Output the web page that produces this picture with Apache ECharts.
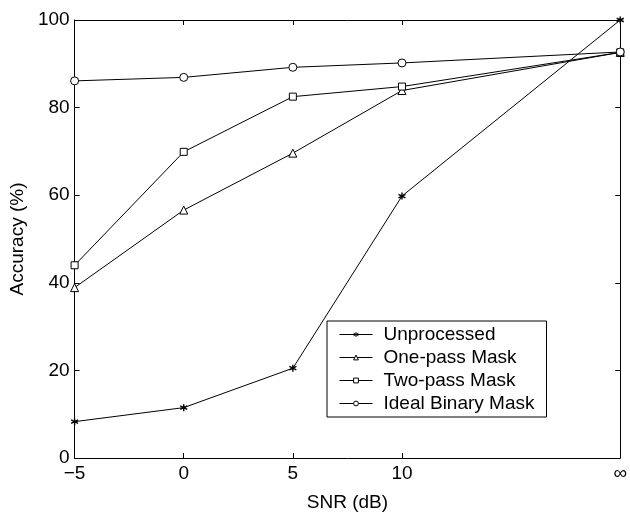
<!DOCTYPE html>
<html>
<head>
<meta charset="utf-8">
<script src="https://cdn.jsdelivr.net/npm/echarts@6/dist/echarts.min.js"></script>
<style>
  html, body { margin: 0; padding: 0; background: #fff; }
  #main { width: 630px; height: 517px; }
</style>
</head>
<body>
<div id="main"></div>
<script>
// SNR positions on the x axis (∞ is drawn at 20)
var snrPos = [-5, 0, 5, 10, 20];
var snrLabels = {'-5': '\u22125', '0': '0', '5': '5', '10': '10', '20': '\u221e'};

var unprocessed = [8.3, 11.5, 20.5, 59.8, 100];
var onePass = [38.9, 56.6, 69.6, 83.9, 92.6];
var twoPass = [44.0, 69.9, 82.5, 84.8, 92.6];
var idealMask = [86.1, 86.9, 89.2, 90.2, 92.7];

var seriesNames = ['Unprocessed', 'One-pass Mask', 'Two-pass Mask', 'Ideal Binary Mask'];

var font = "'Liberation Sans', Arial, Helvetica, sans-serif";
var asterisk = 'path://M5,0L5,10M0.7,2.5L9.3,7.5M0.7,7.5L9.3,2.5';

function pairs(vals) {
  return snrPos.map(function (x, i) { return [x, vals[i]]; });
}

function makeSeries(name, vals, symbol, size, bw) {
  return {
    name: name,
    type: 'line',
    data: pairs(vals),
    symbol: symbol,
    symbolSize: size,
    showAllSymbol: true,
    lineStyle: { color: '#000', width: 1 },
    itemStyle: { color: '#fff', borderColor: '#000', borderWidth: bw || 1 },
    emphasis: { disabled: true }
  };
}

var chart = echarts.init(document.getElementById('main'));

var xCommon = {
  type: 'value', min: -5, max: 20, interval: 5,
  axisLine: { show: true, onZero: false, lineStyle: { color: '#000', width: 1 } },
  axisTick: { inside: true, length: 5, customValues: [0, 5, 10], lineStyle: { color: '#000' } },
  splitLine: { show: false }
};
var yCommon = {
  type: 'value', min: 0, max: 100, interval: 20,
  axisLine: { show: true, onZero: false, lineStyle: { color: '#000', width: 1 } },
  axisTick: { inside: true, length: 5, lineStyle: { color: '#000' } },
  splitLine: { show: false }
};

var option = {
  animation: false,
  textStyle: { fontFamily: font },
  grid: { left: 73, top: 20, right: 2, bottom: 58 },
  legend: {
    data: seriesNames,
    orient: 'vertical',
    left: 327,
    top: 321,
    padding: [4, 12, 4, 12],
    borderColor: '#000',
    borderWidth: 1,
    backgroundColor: '#fff',
    itemWidth: 33,
    itemHeight: 6,
    itemGap: 4,
    itemStyle: { color: '#fff', borderColor: '#000', borderWidth: 1 },
    lineStyle: { color: '#000', width: 1 },
    textStyle: { fontFamily: font, fontSize: 19, lineHeight: 19, color: '#000', padding: [0, 0, 0, 6] }
  },
  xAxis: [
    Object.assign({}, xCommon, {
      position: 'bottom',
      name: 'SNR (dB)',
      nameLocation: 'middle',
      nameGap: 35,
      nameTextStyle: { fontFamily: font, fontSize: 19, color: '#000' },
      axisLabel: {
        customValues: snrPos,
        formatter: function (v) { return snrLabels[String(v)] || ''; },
        color: '#000', fontFamily: font, fontSize: 19, margin: 6
      }
    }),
    Object.assign({}, xCommon, { position: 'top', axisLabel: { show: false } })
  ],
  yAxis: [
    Object.assign({}, yCommon, {
      position: 'left',
      name: 'Accuracy (%)',
      nameLocation: 'middle',
      nameGap: 46,
      nameTextStyle: { fontFamily: font, fontSize: 19, color: '#000' },
      axisLabel: { color: '#000', fontFamily: font, fontSize: 19, margin: 5 }
    }),
    Object.assign({}, yCommon, { position: 'right', axisLabel: { show: false } })
  ],
  series: [
    makeSeries(seriesNames[0], unprocessed, asterisk, 7, 1.4),
    makeSeries(seriesNames[1], onePass, 'triangle', 8),
    makeSeries(seriesNames[2], twoPass, 'rect', 7),
    makeSeries(seriesNames[3], idealMask, 'circle', 8)
  ]
};

chart.setOption(option);
</script>
</body>
</html>
